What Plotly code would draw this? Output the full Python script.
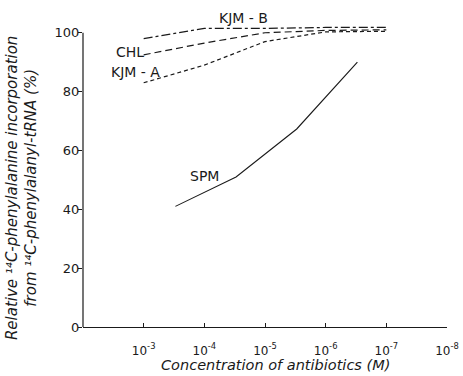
import plotly.graph_objects as go

conc = [1e-3, 1e-4, 1e-5, 1e-6, 1e-7]
kjm_b = [98, 101.5, 101.5, 101.8, 101.8]
chl = [92.5, 96.5, 100, 100.8, 101]
kjm_a = [83, 89, 97, 100.3, 100.5]
spm_conc = [3e-4, 3e-5, 3e-6, 3e-7]
spm = [41, 51, 67.3, 90]

xtick_vals = [1e-3, 1e-4, 1e-5, 1e-6, 1e-7, 1e-8]
xtick_text = ["10<sup>-3</sup>", "10<sup>-4</sup>", "10<sup>-5</sup>",
              "10<sup>-6</sup>", "10<sup>-7</sup>", "10<sup>-8</sup>"]
ytick_vals = [0, 20, 40, 60, 80, 100]

labels = ["KJM - B", "CHL", "KJM - A", "SPM"]
label_x = [-4.65, -2.78, -2.86, -4.01]
label_y = [105.1, 93.5, 86.7, 51.4]

font = "DejaVu Sans"
ink = "#1a1a1a"
YMAX = 104

fig = go.Figure()
fig.add_trace(go.Scatter(x=conc, y=kjm_b, mode="lines",
                         line=dict(color=ink, width=1.2, dash="dashdot")))
fig.add_trace(go.Scatter(x=conc, y=chl, mode="lines",
                         line=dict(color=ink, width=1.2, dash="7px,4px")))
fig.add_trace(go.Scatter(x=conc, y=kjm_a, mode="lines",
                         line=dict(color=ink, width=1.2, dash="4px,3px")))
fig.add_trace(go.Scatter(x=spm_conc, y=spm, mode="lines",
                         line=dict(color=ink, width=1.1)))

for t, lx, ly in zip(labels, label_x, label_y):
    fig.add_annotation(x=lx, y=ly / YMAX, xref="x", yref="paper", text=t, showarrow=False,
                       xanchor="center", yanchor="middle",
                       font=dict(family=font, size=14, color=ink))

# y-axis line from 0 to 100
fig.add_shape(type="line", xref="paper", yref="y", x0=0, x1=0, y0=0, y1=100,
              line=dict(color=ink, width=1.2))

fig.add_annotation(xref="paper", yref="paper", x=0, y=0.454, xshift=-61,
                   xanchor="center", yanchor="middle", textangle=-90,
                   showarrow=False,
                   text="<i>Relative ¹⁴C-phenylalanine incorporation</i><br><i>from ¹⁴C-phenylalanyl-tRNA (%)</i>",
                   font=dict(family=font, size=15, color=ink))

fig.add_annotation(xref="paper", yref="paper", x=0.5275, y=0, yshift=-38,
                   xanchor="center", yanchor="middle", showarrow=False,
                   text="<i>Concentration of antibiotics (M)</i>",
                   font=dict(family=font, size=14.5, color=ink))

fig.update_layout(
    width=463, height=376,
    margin=dict(l=83, r=16, t=21, b=49),
    paper_bgcolor="white", plot_bgcolor="white",
    showlegend=False,
    xaxis=dict(type="log", range=[-2, -8], tickvals=xtick_vals, ticktext=xtick_text,
               automargin=False,
               showgrid=False, zeroline=False, showline=True, linecolor=ink, linewidth=1.2,
               ticks="inside", ticklen=4, tickcolor=ink, ticklabelstandoff=12,
               tickfont=dict(family=font, size=12, color=ink)),
    yaxis=dict(range=[0, YMAX], tickvals=ytick_vals, showgrid=False, zeroline=False,
               automargin=False, ticklabelstandoff=-4,
               showline=False, ticks="outside", ticklen=4, tickcolor=ink,
               tickfont=dict(family=font, size=13, color=ink)),
)

fig.write_html("out.html", config={"displayModeBar": False},
               post_script="document.body.style.margin='0';")
